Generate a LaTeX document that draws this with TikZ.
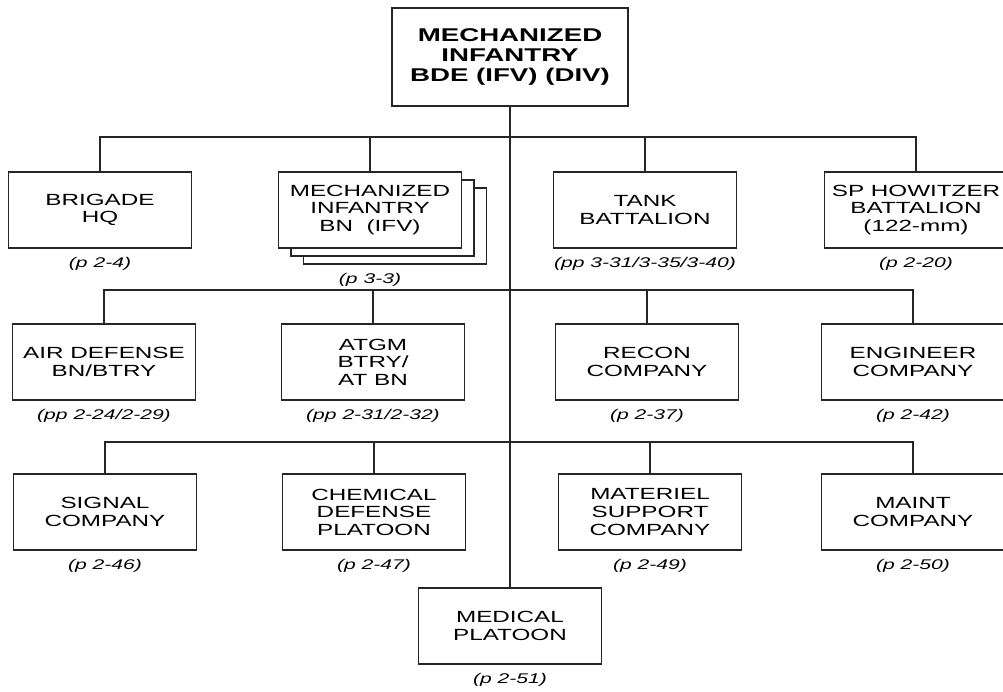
\documentclass[tikz,border=0pt]{standalone}
\usepackage{fontspec}
\setmainfont{Liberation Sans}[FakeStretch=1.5]
\usetikzlibrary{positioning}
\colorlet{OrgLine}{black!85}

\begin{document}
\begin{tikzpicture}[
    x=0.02cm, y=-0.02cm,
    unit/.style={
        rectangle, draw=OrgLine, line width=0.9pt, fill=white,
        minimum width=3.66cm, minimum height=1.53cm,
        align=center, inner sep=2pt,
        font=\fontsize{9.2}{10}\selectfont
    },
    bde/.style={
        unit, minimum width=4.72cm, minimum height=1.96cm,
        font=\bfseries\fontsize{10.5}{11.3}\selectfont
    },
    pageref/.style={
        font=\itshape\fontsize{8}{9}\selectfont, inner sep=0pt
    },
    link/.style={draw=OrgLine, line width=0.9pt},
    node distance=0.15cm
]
\useasboundingbox (0,0) rectangle (1003,691);

% Brigade
\node[bde] (bde) at (510,57)
    {MECHANIZED\\INFANTRY\\BDE (IFV) (DIV)};

% --- First row ---
\node[unit] (hq) at (100,210) {BRIGADE\\HQ};
\node[pageref, below=of hq] (hqref) {(p 2-4)};

\node[unit] (mib3) at (395,226) {};
\node[unit] (mib2) at (382.5,218) {};
\node[unit] (mib) at (370,210)
    {MECHANIZED\\INFANTRY\\BN\ \ (IFV)};
\node[pageref, below=0.15cm] (mibref) at (mib.south |- mib3.south)
    {(p 3-3)};

\node[unit] (tank) at (645,210) {TANK\\BATTALION};
\node[pageref, below=of tank] (tankref) {(pp 3-31/3-35/3-40)};

\node[unit] (sph) at (916,210)
    {SP HOWITZER\\BATTALION\\(122-mm)};
\node[pageref, below=of sph] (sphref) {(p 2-20)};

% --- Second row ---
\node[unit] (ad) at (104,362) {AIR DEFENSE\\BN/BTRY};
\node[pageref, below=of ad] (adref) {(pp 2-24/2-29)};

\node[unit] (atgm) at (373,362) {ATGM\\BTRY/\\AT BN};
\node[pageref, below=of atgm] (atgmref) {(pp 2-31/2-32)};

\node[unit] (recon) at (647,362) {RECON\\COMPANY};
\node[pageref, below=of recon] (reconref) {(p 2-37)};

\node[unit] (eng) at (913,362) {ENGINEER\\COMPANY};
\node[pageref, below=of eng] (engref) {(p 2-42)};

% --- Third row ---
\node[unit] (sig) at (105,512) {SIGNAL\\COMPANY};
\node[pageref, below=of sig] (sigref) {(p 2-46)};

\node[unit] (chem) at (374,512) {CHEMICAL\\DEFENSE\\PLATOON};
\node[pageref, below=of chem] (chemref) {(p 2-47)};

\node[unit] (mat) at (650,512) {MATERIEL\\SUPPORT\\COMPANY};
\node[pageref, below=of mat] (matref) {(p 2-49)};

\node[unit] (maint) at (913,512) {MAINT\\COMPANY};
\node[pageref, below=of maint] (maintref) {(p 2-50)};

% Medical
\node[unit] (med) at (510,626) {MEDICAL\\PLATOON};
\node[pageref, below=of med] (medref) {(p 2-51)};

% Connectors
\coordinate (bus1) at (510,137);
\coordinate (bus2) at (510,290);
\coordinate (bus3) at (510,442);

\draw[link] (bde.south) -- (med.north);
\draw[link] (hq.north) |- (bus1) -| (sph.north);
\draw[link] (ad.north) |- (bus2) -| (eng.north);
\draw[link] (sig.north) |- (bus3) -| (maint.north);
\foreach \u/\b in {mib/bus1, tank/bus1, atgm/bus2, recon/bus2,
                   chem/bus3, mat/bus3} {
    \draw[link] (\u.north) -- (\u.north |- \b);
}

\end{tikzpicture}
\end{document}
